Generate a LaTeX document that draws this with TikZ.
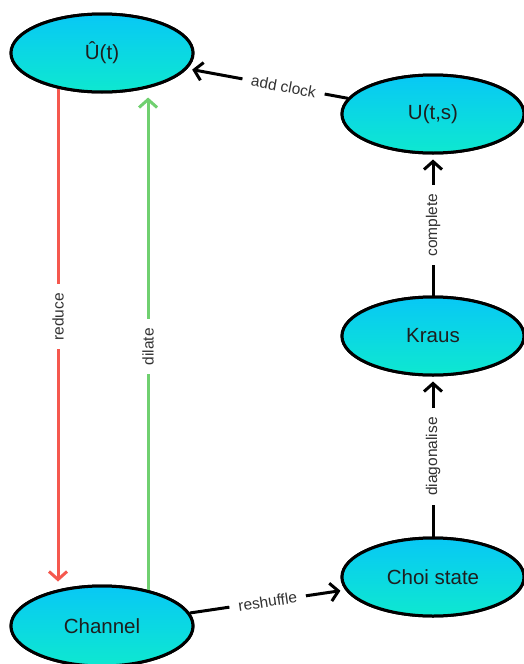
\documentclass[tikz,border=0pt]{standalone}
\usepackage{fontspec}
\setmainfont{Liberation Sans}
\usetikzlibrary{shapes.geometric,arrows.meta}
\definecolor{topc}{RGB}{8,200,245}
\definecolor{botc}{RGB}{14,232,208}
\definecolor{redl}{RGB}{245,88,78}
\definecolor{greenl}{RGB}{112,208,112}
\definecolor{txt}{RGB}{30,30,30}
\definecolor{labc}{RGB}{50,50,50}
\begin{document}
\begin{tikzpicture}[x=1pt,y=-1pt,
  state/.style={ellipse, draw=black, line width=3pt, top color=topc, bottom color=botc,
    minimum width=182pt, minimum height=78pt, inner sep=0pt,
    font=\fontsize{20.5}{24}\selectfont, text=txt},
  conn/.style={line width=3pt, -{Straight Barb[length=8pt,width=18pt]}, shorten >=5pt},
  lab/.style={fill=white, font=\fontsize{15.5}{18}\selectfont, text=labc,
    inner xsep=9pt, inner ysep=2pt}
]
\useasboundingbox (0,0) rectangle (523,664);

\node[state] (Uhat)  at (102,53)  {Û(t)};
\node[state] (Uts)   at (433,114) {U(t,s)};
\node[state] (Kraus) at (433,336) {Kraus};
\node[state] (Choi)  at (433,577) {Choi state};
\node[state, minimum height=80pt] (Chan)  at (102,626) {Channel};

\draw[conn, redl, shorten >=3pt] (Uhat.-141.8) -- (Uhat.-141.8 |- Chan.north)
  node[lab, pos=0.46, rotate=90] {reduce};
\draw[conn, greenl, shorten >=4pt] (Chan.38) -- (Chan.38 |- Uhat.south)
  node[lab, pos=0.49, rotate=90] {dilate};
\draw[conn] (Uts) -- (Uhat) node[lab, pos=0.4, sloped] {add clock};
\draw[conn] (Kraus) -- (Uts) node[lab, midway, rotate=90] {complete};
\draw[conn] (Choi) -- (Kraus) node[lab, midway, rotate=90] {diagonalise};
\draw[conn] (Chan) -- (Choi) node[lab, midway, sloped] {reshuffle};

% redraw nodes on top of the connectors
\node[state] at (Uhat)  {Û(t)};
\node[state] at (Uts)   {U(t,s)};
\node[state] at (Kraus) {Kraus};
\node[state] at (Choi)  {Choi state};
\node[state, minimum height=80pt] at (Chan) {Channel};
\end{tikzpicture}
\end{document}
